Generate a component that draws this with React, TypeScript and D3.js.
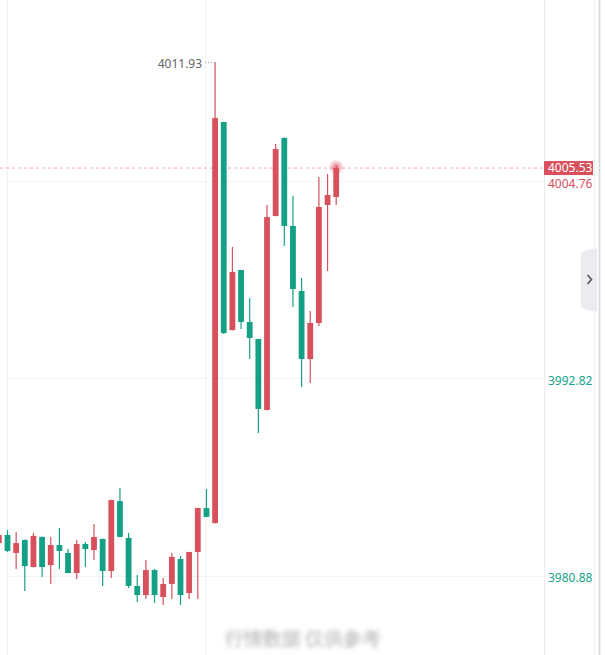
import React, { useEffect, useRef } from "react";
import * as d3 from "d3";

// OHLC per bar, left to right (the first bar is cut by the left edge)
const opens = [
  3982.87, 3983.36, 3982.27, 3983.06, 3981.42, 3983.24, 3981.54, 3982.75, 3982.27, 3981.06,
  3982.81, 3982.45, 3983.12, 3981.18, 3985.41, 3983.18, 3980.28, 3979.73, 3981.24, 3979.61,
  3980.4, 3981.91, 3979.85, 3982.33, 3984.99, 3984.08, 4008.31, 3995.74, 3999.37, 3996.23,
  3995.2, 3990.91, 4002.63, 4007.35, 4002.03, 3998.1, 3993.99, 3996.17, 4003.3, 4003.78,
];
const highs = [
  3983.48, 3983.66, 3983.54, 3983.08, 3983.48, 3983.26, 3983.24, 3983.78, 3982.51, 3983.06,
  3982.93, 3984.02, 3983.14, 3985.49, 3986.2, 3983.48, 3980.94, 3981.85, 3981.3, 3980.76,
  3982.27, 3982.09, 3982.35, 3985.01, 3986.14, 4011.93, 4008.33, 4000.76, 3999.39, 3997.68,
  3995.22, 4003.3, 4006.98, 4007.37, 4003.84, 3998.89, 3996.89, 4004.99, 4005.17, 4005.7,
];
const lows = [
  3982.75, 3982.33, 3981.3, 3979.97, 3981.4, 3980.82, 3980.4, 3981.3, 3981.04, 3980.7,
  3981.42, 3981.85, 3980.28, 3980.76, 3983.22, 3980.15, 3979.31, 3979.49, 3979.25, 3979.13,
  3979.49, 3979.13, 3979.49, 3979.49, 3984.43, 3984.05, 3995.5, 3995.72, 3995.8, 3993.99,
  3989.52, 3990.89, 4002.62, 4000.82, 3997.13, 3992.3, 3992.54, 3995.99, 3999.31, 4003.3,
];
const closes = [
  3983.36, 3982.39, 3982.87, 3981.48, 3983.3, 3981.42, 3982.75, 3982.39, 3981.06, 3982.81,
  3982.51, 3983.24, 3981.18, 3985.47, 3983.24, 3980.28, 3979.73, 3981.24, 3979.73, 3980.4,
  3982.03, 3979.73, 3982.33, 3984.99, 3984.45, 4008.55, 3995.56, 3999.25, 3996.23, 3995.26,
  3990.97, 4002.57, 4006.68, 4002.03, 3998.22, 3993.99, 3996.17, 4003.18, 4003.9, 4005.53,
];

const gridTicks = [4004.76, 3992.82, 3980.88];
const tickColors = ["#d8505c", "#17a488", "#17a488"];
const lastPrice = 4005.53;
const maxLabel = "4011.93";

const W = 605;
const H = 655;
const UP = "#d8505c";
const DOWN = "#14a085";
const FONT = "'Noto Sans', 'Open Sans', sans-serif";

const App = () => {
  const svgRef = useRef<SVGSVGElement | null>(null);

  useEffect(() => {
    document.body.style.margin = "0";
    const svg = d3.select(svgRef.current);
    svg.selectAll("*").remove();

    const data = opens.map((o, i) => ({
      i,
      o,
      h: highs[i],
      l: lows[i],
      c: closes[i],
    }));

    const x = d3.scaleLinear().domain([0, data.length - 1]).range([-1.15, 336.2]);
    const y = d3.scaleLinear().domain([3980.88, 4004.76]).range([576, 180.8]);
    const bodyW = 5.8;

    const defs = svg.append("defs");
    const glow = defs.append("radialGradient").attr("id", "glow");
    glow.append("stop").attr("offset", "0%").attr("stop-color", UP).attr("stop-opacity", 0.75);
    glow.append("stop").attr("offset", "100%").attr("stop-color", UP).attr("stop-opacity", 0);
    defs
      .append("filter")
      .attr("id", "blur")
      .append("feGaussianBlur")
      .attr("stdDeviation", 2.2);

    svg.append("rect").attr("width", W).attr("height", H).attr("fill", "#fff");

    // vertical frame / grid lines
    const vLines = [
      { x: 7.5, c: "#f1f1f1", w: 1 },
      { x: 206, c: "#efefef", w: 1 },
      { x: 544.5, c: "#ebebeb", w: 1 },
      { x: 594.5, c: "#f0f0f0", w: 1 },
      { x: 599.5, c: "#dcdcdc", w: 2 },
    ];
    svg
      .selectAll("line.v")
      .data(vLines)
      .enter()
      .append("line")
      .attr("x1", (d) => d.x)
      .attr("x2", (d) => d.x)
      .attr("y1", 0)
      .attr("y2", H)
      .attr("stroke", (d) => d.c)
      .attr("stroke-width", (d) => d.w);

    // horizontal grid
    svg
      .selectAll("line.h")
      .data(gridTicks)
      .enter()
      .append("line")
      .attr("x1", 8)
      .attr("x2", 544)
      .attr("y1", (d) => Math.round(y(d)) + 0.5)
      .attr("y2", (d) => Math.round(y(d)) + 0.5)
      .attr("stroke", "#f3f3f3");

    // blurred watermark at the bottom
    svg
      .append("text")
      .attr("x", 303)
      .attr("y", 645)
      .attr("text-anchor", "middle")
      .attr("font-family", FONT)
      .attr("font-size", 19)
      .attr("font-weight", "bold")
      .attr("fill", "#c8c8c8")
      .attr("filter", "url(#blur)")
      .text("行情数据 仅供参考");

    // current price dashed line
    svg
      .append("line")
      .attr("x1", 0)
      .attr("x2", 544)
      .attr("y1", y(lastPrice))
      .attr("y2", y(lastPrice))
      .attr("stroke", "#f2a9b0")
      .attr("stroke-dasharray", "3,3");

    // candles
    const g = svg.append("g");
    const candles = g.selectAll("g").data(data).enter().append("g");
    candles
      .append("line")
      .attr("x1", (d) => x(d.i))
      .attr("x2", (d) => x(d.i))
      .attr("y1", (d) => y(d.h))
      .attr("y2", (d) => y(d.l))
      .attr("stroke", (d) => (d.c >= d.o ? UP : DOWN))
      .attr("stroke-width", 1.2);
    candles
      .append("rect")
      .attr("x", (d) => x(d.i) - bodyW / 2)
      .attr("width", bodyW)
      .attr("y", (d) => y(Math.max(d.o, d.c)))
      .attr("height", (d) => Math.max(1, Math.abs(y(d.o) - y(d.c))))
      .attr("fill", (d) => (d.c >= d.o ? UP : DOWN));

    // pulse on the last bar
    const last = data[data.length - 1];
    svg
      .append("circle")
      .attr("cx", x(last.i))
      .attr("cy", y(lastPrice) - 1)
      .attr("r", 8)
      .attr("fill", "url(#glow)");

    // max price marker
    const maxIdx = d3.maxIndex(data, (d) => d.h);
    const mx = x(maxIdx);
    const my = y(data[maxIdx].h);
    svg
      .append("line")
      .attr("x1", mx - 10)
      .attr("x2", mx)
      .attr("y1", my + 0.5)
      .attr("y2", my + 0.5)
      .attr("stroke", "#999")
      .attr("stroke-dasharray", "1,2");
    svg
      .append("text")
      .attr("x", mx - 13)
      .attr("y", my + 2)
      .attr("dy", "0.35em")
      .attr("text-anchor", "end")
      .attr("font-family", FONT)
      .attr("font-size", 12)
      .attr("fill", "#666")
      .text(maxLabel);

    // right axis labels
    svg
      .selectAll("text.tick")
      .data(gridTicks)
      .enter()
      .append("text")
      .attr("x", 548)
      .attr("y", (d, i) => y(d) + (i === 0 ? 3 : 2))
      .attr("dy", "0.35em")
      .attr("font-family", FONT)
      .attr("font-size", 12)
      .attr("fill", (d, i) => tickColors[i])
      .text((d) => d.toFixed(2));

    // last price tag
    const ly = y(lastPrice);
    svg
      .append("rect")
      .attr("x", 544)
      .attr("y", ly - 7)
      .attr("width", 49)
      .attr("height", 14)
      .attr("fill", UP);
    svg
      .append("text")
      .attr("x", 548)
      .attr("y", ly)
      .attr("dy", "0.35em")
      .attr("font-family", FONT)
      .attr("font-size", 12)
      .attr("fill", "#fff")
      .text(lastPrice.toFixed(2));

    // collapse tab on the right
    svg
      .append("path")
      .attr("d", "M581,252 L597,248 L597,312 L581,308 Z")
      .attr("fill", "#ebebf0");
    svg
      .append("path")
      .attr("d", "M587.5,275 L591.5,279.5 L587.5,284")
      .attr("fill", "none")
      .attr("stroke", "#555")
      .attr("stroke-width", 1.6);
  }, []);

  return <svg ref={svgRef} width={W} height={H} style={{ display: "block" }} />;
};

export default App;
